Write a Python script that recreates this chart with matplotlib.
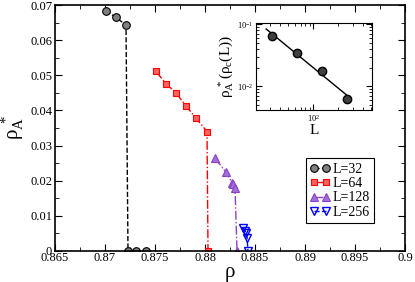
import numpy as np
import matplotlib
matplotlib.use('Agg')
import matplotlib.pyplot as plt
from matplotlib.ticker import MultipleLocator, FormatStrFormatter, FuncFormatter

plt.rcParams['font.family'] = ['Liberation Serif', 'DejaVu Serif']
plt.rcParams['mathtext.fontset'] = 'stix'

# data
rho_32 = [0.8701, 0.8711, 0.8721, 0.8723, 0.8731, 0.8741]
val_32 = [0.0684, 0.0665, 0.0643, 0.0, 0.0, 0.0]
rho_64 = [0.8751, 0.8761, 0.8771, 0.8781, 0.8791, 0.8802, 0.8803]
val_64 = [0.0511, 0.0476, 0.0450, 0.0413, 0.0378, 0.0340, 0.0]
rho_128 = [0.8810, 0.8821, 0.8827, 0.8828, 0.8830, 0.8832]
val_128 = [0.0264, 0.0224, 0.0194, 0.0191, 0.0178, 0.0]
rho_256 = [0.8838, 0.8840, 0.8841, 0.8842, 0.8843]
val_256 = [0.0066, 0.0058, 0.0050, 0.0038, 0.0]

sizes = [32, 64, 128, 256]
rho_c_val = [0.0643, 0.0340, 0.0178, 0.0062]

fig = plt.figure(figsize=(4.15, 2.82), dpi=100)
ax = fig.add_axes([0.1325, 0.110, 0.8435, 0.872])

ax.plot(rho_32, val_32, ls='--', color='black', lw=1, marker='o', ms=5.5,
        mfc='#7f7f7f', mec='black', mew=0.8, label='L=32')
ax.plot(rho_64, val_64, ls='-.', color='red', lw=1, marker='s', ms=5,
        mfc='#ff6060', mec='red', mew=0.8, label='L=64')
ax.plot(rho_128, val_128, ls='-.', color='#9040c8', lw=1, marker='^', ms=6,
        mfc='#a070d8', mec='#8a40c8', mew=0.8, label='L=128')
ax.plot(rho_256, val_256, ls='--', color='blue', lw=1, marker='v', ms=6,
        mfc='none', mec='blue', mew=1, label='L=256')

ax.set_xlim(0.865, 0.9)
ax.set_ylim(0, 0.07)
ax.xaxis.set_major_locator(MultipleLocator(0.005))
ax.xaxis.set_minor_locator(MultipleLocator(0.0025))
ax.yaxis.set_major_locator(MultipleLocator(0.01))
ax.yaxis.set_minor_locator(MultipleLocator(0.005))
ax.xaxis.set_major_formatter(FormatStrFormatter('%g'))
ax.yaxis.set_major_formatter(FuncFormatter(lambda v, p: '%g' % round(v, 4)))
ax.tick_params(which='both', direction='in', top=True, right=True, labelsize=9)
ax.tick_params(axis='x', pad=1)
ax.tick_params(axis='y', pad=2)
ax.tick_params(which='major', length=5)
ax.tick_params(which='minor', length=3)
for s in ax.spines.values():
    s.set_linewidth(1.2)
ax.set_xlabel('ρ', fontsize=15, labelpad=-1)
ax.set_ylabel(r'$\mathregular{\rho_A^{\ *}}$', fontsize=15, labelpad=3)

leg = ax.legend(loc='lower right', bbox_to_anchor=(0.911, 0.114), borderaxespad=0,
                numpoints=2, handlelength=1.4, handletextpad=0.2, borderpad=0.3,
                labelspacing=0.1, fontsize=10, fancybox=False, edgecolor='black',
                framealpha=1)
leg.get_frame().set_linewidth(0.8)

# inset
ins = fig.add_axes([0.617, 0.610, 0.279, 0.307])
coef = np.polyfit(np.log(sizes), np.log(rho_c_val), 1)
xf = np.array([27, 285])
ins.plot(xf, np.exp(np.polyval(coef, np.log(xf))), color='black', lw=1)
ins.plot(sizes, rho_c_val, ls='none', marker='o', ms=6, mfc='#404040', mec='black')
ins.set_xscale('log')
ins.set_yscale('log')
ins.set_xlim(20.4, 506)
ins.set_ylim(0.0041, 0.104)
ins.set_xticks([100])
ins.set_yticks([0.01, 0.1])
ins.tick_params(which='both', direction='in', top=True, right=True, labelsize=6, pad=2)
ins.tick_params(which='major', length=4)
ins.tick_params(which='minor', length=2)
ins.set_xlabel('L', fontsize=11, labelpad=0)
ins.set_ylabel(r'$\mathregular{\rho_A^{\ *}(\rho_c(L))}$', fontsize=11, labelpad=1)

fig.savefig('out.png', dpi=100)
